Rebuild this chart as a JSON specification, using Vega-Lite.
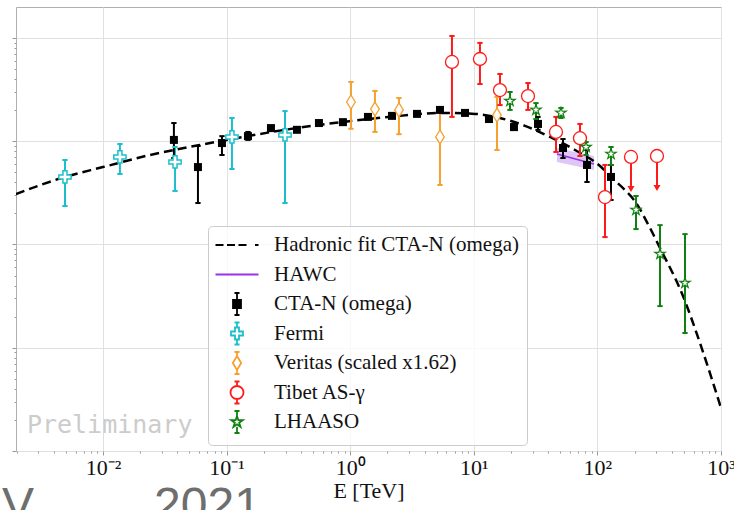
{
  "$schema": "https://vega.github.io/schema/vega-lite/v6.json",
  "width": 705,
  "height": 444,
  "autosize": {"type": "none"},
  "padding": {"left": 16, "top": 7, "right": 13, "bottom": 59},
  "background": "white",
  "title": {"text": "V\u00a0\u00a0\u00a0\u00a0\u00a0\u00a0\u00a0\u00a0\u00a02021", "orient": "bottom", "anchor": "start", "frame": "group", "font": "Liberation Sans", "fontSize": 48, "fontWeight": "normal", "color": "#6e6e6e", "offset": -18, "dx": -14},
  "config": {
    "view": {"stroke": "#b0b0b0", "strokeWidth": 1}
  },
  "datasets": {
    "pts": [
      {"s": "Fermi", "E": 0.00493, "F": 4.51e-12, "lo": 2.36e-12, "hi": 6.58e-12},
      {"s": "Fermi", "E": 0.01372, "F": 7.04e-12, "lo": 4.82e-12, "hi": 9.40e-12},
      {"s": "Fermi", "E": 0.0383, "F": 6.30e-12, "lo": 3.30e-12, "hi": 8.79e-12},
      {"s": "Fermi", "E": 0.1106, "F": 1.10e-11, "lo": 5.38e-12, "hi": 1.68e-11},
      {"s": "Fermi", "E": 0.297, "F": 1.15e-11, "lo": 2.52e-12, "hi": 1.96e-11},
      {"s": "CTA-N (omega)", "E": 0.0375, "F": 1.03e-11, "lo": 6.88e-12, "hi": 1.50e-11},
      {"s": "CTA-N (omega)", "E": 0.0587, "F": 5.62e-12, "lo": 2.52e-12, "hi": 9.00e-12},
      {"s": "CTA-N (omega)", "E": 0.0918, "F": 9.6e-12, "lo": 7.36e-12, "hi": 1.12e-11},
      {"s": "CTA-N (omega)", "E": 0.149, "F": 1.12e-11, "lo": 1.03e-11, "hi": 1.23e-11},
      {"s": "CTA-N (omega)", "E": 0.2287, "F": 1.34e-11, "lo": 1.26e-11, "hi": 1.41e-11},
      {"s": "CTA-N (omega)", "E": 0.371, "F": 1.29e-11, "lo": 1.23e-11, "hi": 1.37e-11},
      {"s": "CTA-N (omega)", "E": 0.559, "F": 1.50e-11, "lo": 1.41e-11, "hi": 1.57e-11},
      {"s": "CTA-N (omega)", "E": 0.874, "F": 1.53e-11, "lo": 1.47e-11, "hi": 1.61e-11},
      {"s": "CTA-N (omega)", "E": 1.393, "F": 1.72e-11, "lo": 1.64e-11, "hi": 1.79e-11},
      {"s": "CTA-N (omega)", "E": 2.179, "F": 1.76e-11, "lo": 1.68e-11, "hi": 1.84e-11},
      {"s": "CTA-N (omega)", "E": 3.471, "F": 1.84e-11, "lo": 1.76e-11, "hi": 1.92e-11},
      {"s": "CTA-N (omega)", "E": 5.327, "F": 2.01e-11, "lo": 1.92e-11, "hi": 2.10e-11},
      {"s": "CTA-N (omega)", "E": 8.489, "F": 1.88e-11, "lo": 1.79e-11, "hi": 1.96e-11},
      {"s": "CTA-N (omega)", "E": 13.27, "F": 1.64e-11, "lo": 1.57e-11, "hi": 1.72e-11},
      {"s": "CTA-N (omega)", "E": 21.14, "F": 1.37e-11, "lo": 1.29e-11, "hi": 1.47e-11},
      {"s": "CTA-N (omega)", "E": 33.07, "F": 1.47e-11, "lo": 1.29e-11, "hi": 1.72e-11},
      {"s": "CTA-N (omega)", "E": 52.69, "F": 8.60e-12, "lo": 6.88e-12, "hi": 1.05e-11},
      {"s": "CTA-N (omega)", "E": 82.41, "F": 5.89e-12, "lo": 4.03e-12, "hi": 8.23e-12},
      {"s": "CTA-N (omega)", "E": 128.8, "F": 4.51e-12, "lo": 2.70e-12, "hi": 5.89e-12},
      {"s": "Veritas (scaled x1.62)", "E": 1.015, "F": 2.40e-11, "lo": 1.32e-11, "hi": 3.75e-11},
      {"s": "Veritas (scaled x1.62)", "E": 1.587, "F": 2.05e-11, "lo": 1.23e-11, "hi": 3.07e-11},
      {"s": "Veritas (scaled x1.62)", "E": 2.482, "F": 2.01e-11, "lo": 1.17e-11, "hi": 2.62e-11},
      {"s": "Veritas (scaled x1.62)", "E": 5.327, "F": 1.10e-11, "lo": 3.77e-12, "hi": 1.92e-11},
      {"s": "Veritas (scaled x1.62)", "E": 15.41, "F": 1.79e-11, "lo": 8.23e-12, "hi": 2.69e-11},
      {"s": "Tibet AS-γ", "E": 6.661, "F": 5.86e-11, "lo": 1.72e-11, "hi": 1.046e-10},
      {"s": "Tibet AS-γ", "E": 11.22, "F": 6.26e-11, "lo": 3.58e-11, "hi": 8.96e-11},
      {"s": "Tibet AS-γ", "E": 16.29, "F": 3.13e-11, "lo": 2.24e-11, "hi": 4.48e-11},
      {"s": "Tibet AS-γ", "E": 27.45, "F": 2.74e-11, "lo": 2.01e-11, "hi": 3.66e-11},
      {"s": "Tibet AS-γ", "E": 46.24, "F": 1.23e-11, "lo": 7.87e-12, "hi": 1.72e-11},
      {"s": "Tibet AS-γ", "E": 72.31, "F": 1.07e-11, "lo": 7.19e-12, "hi": 1.47e-11},
      {"s": "Tibet AS-γ", "E": 115.2, "F": 2.88e-12, "lo": 1.18e-12, "hi": 5.89e-12},
      {"s": "Tibet AS-γ", "E": 187.0, "F": 7.04e-12, "lo": 3.45e-12, "hi": 7.04e-12, "ul": true},
      {"s": "Tibet AS-γ", "E": 303.5, "F": 7.19e-12, "lo": 3.52e-12, "hi": 7.19e-12, "ul": true},
      {"s": "LHAASO", "E": 19.63, "F": 2.45e-11, "lo": 2.01e-11, "hi": 3.00e-11},
      {"s": "LHAASO", "E": 31.86, "F": 2.01e-11, "lo": 1.64e-11, "hi": 2.34e-11},
      {"s": "LHAASO", "E": 50.76, "F": 1.88e-11, "lo": 1.68e-11, "hi": 2.10e-11},
      {"s": "LHAASO", "E": 80.9, "F": 8.79e-12, "lo": 7.36e-12, "hi": 9.83e-12},
      {"s": "LHAASO", "E": 128.8, "F": 7.53e-12, "lo": 5.89e-12, "hi": 8.79e-12},
      {"s": "LHAASO", "E": 205.3, "F": 2.16e-12, "lo": 1.41e-12, "hi": 2.95e-12},
      {"s": "LHAASO", "E": 321.0, "F": 8.09e-13, "lo": 2.53e-13, "hi": 1.54e-12},
      {"s": "LHAASO", "E": 511.3, "F": 4.24e-13, "lo": 1.39e-13, "hi": 1.26e-12}
    ],
    "fit": [
      {"E": 0.001977, "F": 3.08e-12}, {"E": 0.00493, "F": 4.51e-12}, {"E": 0.01, "F": 5.62e-12},
      {"E": 0.024, "F": 7.36e-12}, {"E": 0.0609, "F": 9.20e-12}, {"E": 0.1007, "F": 1.03e-11},
      {"E": 0.297, "F": 1.29e-11}, {"E": 1.015, "F": 1.57e-11}, {"E": 2.529, "F": 1.76e-11},
      {"E": 5.327, "F": 1.88e-11}, {"E": 10.22, "F": 1.84e-11}, {"E": 16.29, "F": 1.68e-11},
      {"E": 25.95, "F": 1.41e-11}, {"E": 41.35, "F": 1.10e-11}, {"E": 65.89, "F": 8.23e-12},
      {"E": 104.96, "F": 5.75e-12}, {"E": 131.2, "F": 4.41e-12}, {"E": 167.2, "F": 3.37e-12},
      {"E": 197.8, "F": 2.70e-12}, {"E": 266.5, "F": 1.445e-12}, {"E": 321.0, "F": 9.25e-13},
      {"E": 492.7, "F": 3.17e-13}, {"E": 676.1, "F": 1.11e-13}, {"E": 1000, "F": 2.61e-14}
    ],
    "hawc": [
      {"E": 47.11, "F": 7.53e-12, "lo": 6.30e-12, "hi": 8.60e-12},
      {"E": 93.86, "F": 6.02e-12, "lo": 5.27e-12, "hi": 7.19e-12}
    ],
    "leg": [
      {"s": "Hadronic fit CTA-N (omega)"}, {"s": "HAWC"}, {"s": "CTA-N (omega)"}, {"s": "Fermi"},
      {"s": "Veritas (scaled x1.62)"}, {"s": "Tibet AS-γ"}, {"s": "LHAASO"}
    ]
  },
  "layer": [
    {
      "layer": [
        {
          "data": {"name": "hawc"},
          "mark": {"type": "area", "color": "#c8a2f0", "opacity": 0.6},
          "encoding": {
            "x": {"field": "E", "type": "quantitative",
              "scale": {"type": "log", "domain": [0.00198, 1000], "nice": false},
              "axis": {"values": [0.01, 0.1, 1, 10, 100, 1000], "grid": true, "gridColor": "#e0e0e0", "domain": false,
                "tickSize": 4, "tickColor": "#999999", "labelFlush": false, "labelOverlap": false, "labelBound": false,
                "labelExpr": "datum.value < 0.05 ? '10⁻²' : datum.value < 0.5 ? '10⁻¹' : datum.value < 5 ? '10⁰' : datum.value < 50 ? '10¹' : datum.value < 500 ? '10²' : '10³'",
                "labelFont": "Liberation Serif, Times New Roman, serif", "labelFontSize": 22, "labelColor": "#111111", "labelPadding": 2,
                "title": "E [TeV]", "titleFont": "Liberation Serif, Times New Roman, serif", "titleFontSize": 22, "titleFontWeight": "normal", "titleColor": "#111111", "titlePadding": 2}},
            "y": {"field": "lo", "type": "quantitative",
              "scale": {"type": "log", "domain": [1e-14, 1.995e-10], "nice": false},
              "axis": {"values": [1e-14, 1e-13, 1e-12, 1e-11, 1e-10], "grid": true, "gridColor": "#e0e0e0", "domain": false,
                "tickSize": 4, "tickColor": "#999999", "labels": false, "title": null}},
            "y2": {"field": "hi"}
          }
        },
        {
          "data": {"name": "fit"},
          "mark": {"type": "line", "color": "black", "strokeWidth": 2.5, "strokeDash": [9, 5], "interpolate": "monotone", "clip": true},
          "encoding": {
            "x": {"field": "E", "type": "quantitative", "scale": {"type": "log", "domain": [0.00198, 1000], "nice": false}},
            "y": {"field": "F", "type": "quantitative", "scale": {"type": "log", "domain": [1e-14, 1.995e-10], "nice": false}}
          }
        },
        {
          "data": {"name": "hawc"},
          "mark": {"type": "line", "color": "#9933e6", "strokeWidth": 1.5},
          "encoding": {
            "x": {"field": "E", "type": "quantitative", "scale": {"type": "log", "domain": [0.00198, 1000], "nice": false}},
            "y": {"field": "F", "type": "quantitative", "scale": {"type": "log", "domain": [1e-14, 1.995e-10], "nice": false}}
          }
        },
        {
          "data": {"name": "pts"},
          "mark": {"type": "rule", "strokeWidth": 2},
          "encoding": {
            "x": {"field": "E", "type": "quantitative", "scale": {"type": "log", "domain": [0.00198, 1000], "nice": false}},
            "y": {"field": "lo", "type": "quantitative", "scale": {"type": "log", "domain": [1e-14, 1.995e-10], "nice": false}},
            "y2": {"field": "hi"},
            "color": {"field": "s", "type": "nominal", "legend": null,
              "scale": {"domain": ["CTA-N (omega)", "Fermi", "Veritas (scaled x1.62)", "Tibet AS-γ", "LHAASO"],
                "range": ["#000000", "#1bbfcc", "#f5a030", "#ff1a1a", "#108010"]}}
          }
        },
        {
          "data": {"name": "pts"},
          "transform": [{"filter": "!datum.ul"}, {"fold": ["lo", "hi"], "as": ["k", "v"]}],
          "mark": {"type": "point", "shape": "stroke", "size": 28, "strokeWidth": 2, "opacity": 1},
          "encoding": {
            "x": {"field": "E", "type": "quantitative", "scale": {"type": "log", "domain": [0.00198, 1000], "nice": false}},
            "y": {"field": "v", "type": "quantitative", "scale": {"type": "log", "domain": [1e-14, 1.995e-10], "nice": false}},
            "color": {"field": "s", "type": "nominal", "legend": null,
              "scale": {"domain": ["CTA-N (omega)", "Fermi", "Veritas (scaled x1.62)", "Tibet AS-γ", "LHAASO"],
                "range": ["#000000", "#1bbfcc", "#f5a030", "#ff1a1a", "#108010"]}}
          }
        },
        {
          "data": {"name": "pts"},
          "transform": [{"filter": "datum.ul"}],
          "mark": {"type": "point", "shape": "triangle-down", "size": 50, "filled": true, "color": "#ff1a1a", "opacity": 1},
          "encoding": {
            "x": {"field": "E", "type": "quantitative", "scale": {"type": "log", "domain": [0.00198, 1000], "nice": false}},
            "y": {"field": "lo", "type": "quantitative", "scale": {"type": "log", "domain": [1e-14, 1.995e-10], "nice": false}}
          }
        },
        {
          "data": {"name": "pts"},
          "transform": [{"filter": "datum.s == 'CTA-N (omega)'"}],
          "mark": {"type": "point", "shape": "square", "size": 64, "filled": true, "color": "#000000", "opacity": 1},
          "encoding": {
            "x": {"field": "E", "type": "quantitative", "scale": {"type": "log", "domain": [0.00198, 1000], "nice": false}},
            "y": {"field": "F", "type": "quantitative", "scale": {"type": "log", "domain": [1e-14, 1.995e-10], "nice": false}}
          }
        },
        {
          "data": {"name": "pts"},
          "transform": [{"filter": "datum.s == 'Fermi'"}],
          "mark": {"type": "point", "shape": "M-0.33,-1H0.33V-0.33H1V0.33H0.33V1H-0.33V0.33H-1V-0.33H-0.33Z", "size": 150, "fill": "#ffffff", "stroke": "#1bbfcc", "strokeWidth": 1.5, "opacity": 1},
          "encoding": {
            "x": {"field": "E", "type": "quantitative", "scale": {"type": "log", "domain": [0.00198, 1000], "nice": false}},
            "y": {"field": "F", "type": "quantitative", "scale": {"type": "log", "domain": [1e-14, 1.995e-10], "nice": false}}
          }
        },
        {
          "data": {"name": "pts"},
          "transform": [{"filter": "datum.s == 'Veritas (scaled x1.62)'"}],
          "mark": {"type": "point", "shape": "M0,-1L0.62,0L0,1L-0.62,0Z", "size": 196, "fill": "#ffffff", "stroke": "#f5a030", "strokeWidth": 1.3, "opacity": 1},
          "encoding": {
            "x": {"field": "E", "type": "quantitative", "scale": {"type": "log", "domain": [0.00198, 1000], "nice": false}},
            "y": {"field": "F", "type": "quantitative", "scale": {"type": "log", "domain": [1e-14, 1.995e-10], "nice": false}}
          }
        },
        {
          "data": {"name": "pts"},
          "transform": [{"filter": "datum.s == 'Tibet AS-γ'"}],
          "mark": {"type": "point", "shape": "circle", "size": 169, "fill": "#ffffff", "stroke": "#ff1a1a", "strokeWidth": 1.3, "opacity": 1},
          "encoding": {
            "x": {"field": "E", "type": "quantitative", "scale": {"type": "log", "domain": [0.00198, 1000], "nice": false}},
            "y": {"field": "F", "type": "quantitative", "scale": {"type": "log", "domain": [1e-14, 1.995e-10], "nice": false}}
          }
        },
        {
          "data": {"name": "pts"},
          "transform": [{"filter": "datum.s == 'LHAASO'"}],
          "mark": {"type": "point", "shape": "M0,-1L0.223,-0.307L0.951,-0.309L0.361,0.117L0.588,0.809L0,0.38L-0.588,0.809L-0.361,0.117L-0.951,-0.309L-0.223,-0.307Z", "size": 120, "fill": "#ffffff", "stroke": "#108010", "strokeWidth": 1.2, "opacity": 1},
          "encoding": {
            "x": {"field": "E", "type": "quantitative", "scale": {"type": "log", "domain": [0.00198, 1000], "nice": false}},
            "y": {"field": "F", "type": "quantitative", "scale": {"type": "log", "domain": [1e-14, 1.995e-10], "nice": false}}
          }
        },
        {
          "data": {"values": [{}]},
          "mark": {"type": "text", "text": "Preliminary", "font": "DejaVu Sans Mono", "fontSize": 25, "color": "#cccccc", "align": "left", "baseline": "alphabetic"},
          "encoding": {
            "x": {"datum": 0.002426, "type": "quantitative", "scale": {"type": "log", "domain": [0.00198, 1000], "nice": false}},
            "y": {"datum": 1.49e-14, "type": "quantitative", "scale": {"type": "log", "domain": [1e-14, 1.995e-10], "nice": false}}
          }
        },
        {
          "data": {"name": "leg"},
          "mark": {"type": "point", "clip": true, "opacity": 1, "strokeWidth": 1.8},
          "encoding": {
            "x": {"datum": 1e-6, "type": "quantitative", "scale": {"type": "log", "domain": [0.00198, 1000], "nice": false}},
            "y": {"datum": 1e-20, "type": "quantitative", "scale": {"type": "log", "domain": [1e-14, 1.995e-10], "nice": false}},
            "stroke": {"field": "s", "type": "nominal",
              "legend": {"title": null, "orient": "none", "legendX": 192, "legendY": 219, "symbolSize": 400, "symbolStrokeWidth": 1.8,
                "labelFont": "Liberation Serif, Times New Roman, serif", "labelFontSize": 21, "labelColor": "#111111", "labelLimit": 400,
                "labelOffset": 26, "rowPadding": -0.5, "padding": 8, "symbolOffset": 10, "gridAlign": "all",
                "fillColor": "rgba(255,255,255,0.8)", "strokeColor": "#cccccc", "cornerRadius": 4},
              "scale": {"domain": ["Hadronic fit CTA-N (omega)", "HAWC", "CTA-N (omega)", "Fermi", "Veritas (scaled x1.62)", "Tibet AS-γ", "LHAASO"],
                "range": ["#000000", "#9933e6", "#000000", "#1bbfcc", "#f5a030", "#ff1a1a", "#108010"]}},
            "fill": {"field": "s", "type": "nominal",
              "legend": {"title": null, "orient": "none", "legendX": 192, "legendY": 219, "symbolSize": 400, "symbolStrokeWidth": 1.8,
                "labelFont": "Liberation Serif, Times New Roman, serif", "labelFontSize": 21, "labelColor": "#111111", "labelLimit": 400,
                "labelOffset": 26, "rowPadding": -0.5, "padding": 8, "symbolOffset": 10, "gridAlign": "all",
                "fillColor": "rgba(255,255,255,0.8)", "strokeColor": "#cccccc", "cornerRadius": 4},
              "scale": {"domain": ["Hadronic fit CTA-N (omega)", "HAWC", "CTA-N (omega)", "Fermi", "Veritas (scaled x1.62)", "Tibet AS-γ", "LHAASO"],
                "range": ["transparent", "transparent", "#000000", "#ffffff", "#ffffff", "#ffffff", "#ffffff"]}},
            "shape": {"field": "s", "type": "nominal",
              "legend": {"title": null, "orient": "none", "legendX": 192, "legendY": 219, "symbolSize": 400, "symbolStrokeWidth": 1.8,
                "labelFont": "Liberation Serif, Times New Roman, serif", "labelFontSize": 21, "labelColor": "#111111", "labelLimit": 400,
                "labelOffset": 26, "rowPadding": -0.5, "padding": 8, "symbolOffset": 10, "gridAlign": "all",
                "fillColor": "rgba(255,255,255,0.8)", "strokeColor": "#cccccc", "cornerRadius": 4},
              "scale": {"domain": ["Hadronic fit CTA-N (omega)", "HAWC", "CTA-N (omega)", "Fermi", "Veritas (scaled x1.62)", "Tibet AS-γ", "LHAASO"],
                "range": [
                  "M-2.15,0H-1.35M-1.0,0H-0.2M0.15,0H0.95M1.8,0H2.15",
                  "M-2.15,0H2.15",
                  "M-0.4,-0.4H0.4V0.4H-0.4ZM0,-1.1V-0.4M0,0.4V1.1M-0.25,-1.1H0.25M-0.25,1.1H0.25",
                  "M-0.2,-0.6H0.2V-0.2H0.6V0.2H0.2V0.6H-0.2V0.2H-0.6V-0.2H-0.2ZM0,-1.1V-0.6M0,0.6V1.1M-0.25,-1.1H0.25M-0.25,1.1H0.25",
                  "M0,-0.7L0.42,0L0,0.7L-0.42,0ZM0,-1.1V-0.7M0,0.7V1.1M-0.25,-1.1H0.25M-0.25,1.1H0.25",
                  "M0.65,0A0.65,0.65,0,1,1,-0.65,0A0.65,0.65,0,1,1,0.65,0ZM0,-1.1V-0.65M0,0.65V1.1M-0.25,-1.1H0.25M-0.25,1.1H0.25",
                  "M0,-0.6L0.134,-0.184L0.571,-0.185L0.217,0.07L0.353,0.485L0,0.228L-0.353,0.485L-0.217,0.07L-0.571,-0.185L-0.134,-0.184ZM0,-1.1V-0.6M0,0.485V1.1M-0.25,-1.1H0.25M-0.25,1.1H0.25"
                ]}}
          }
        }
      ]
    },
    {
      "data": {"name": "fit"},
      "mark": {"type": "point", "opacity": 0},
      "encoding": {
        "x": {"field": "E", "type": "quantitative",
          "scale": {"type": "log", "domain": [0.00198, 1000], "nice": false},
          "axis": {"orient": "bottom", "values": [0.002, 0.003, 0.004, 0.005, 0.006, 0.007, 0.008, 0.009, 0.02, 0.03, 0.04, 0.05, 0.06, 0.07, 0.08, 0.09, 0.2, 0.3, 0.4, 0.5, 0.6, 0.7, 0.8, 0.9, 2, 3, 4, 5, 6, 7, 8, 9, 20, 30, 40, 50, 60, 70, 80, 90, 200, 300, 400, 500, 600, 700, 800, 900],
            "grid": false, "labels": false, "domain": false, "tickSize": 2, "tickColor": "#999999", "title": null}},
        "y": {"field": "F", "type": "quantitative",
          "scale": {"type": "log", "domain": [1e-14, 1.995e-10], "nice": false},
          "axis": {"orient": "left", "values": [2e-14, 3e-14, 4e-14, 5e-14, 6e-14, 7e-14, 8e-14, 9e-14, 2e-13, 3e-13, 4e-13, 5e-13, 6e-13, 7e-13, 8e-13, 9e-13, 2e-12, 3e-12, 4e-12, 5e-12, 6e-12, 7e-12, 8e-12, 9e-12, 2e-11, 3e-11, 4e-11, 5e-11, 6e-11, 7e-11, 8e-11, 9e-11],
            "grid": false, "labels": false, "domain": false, "tickSize": 2, "tickColor": "#999999", "title": null}}
      }
    }
  ],
  "resolve": {"axis": {"x": "independent", "y": "independent"}}
}
